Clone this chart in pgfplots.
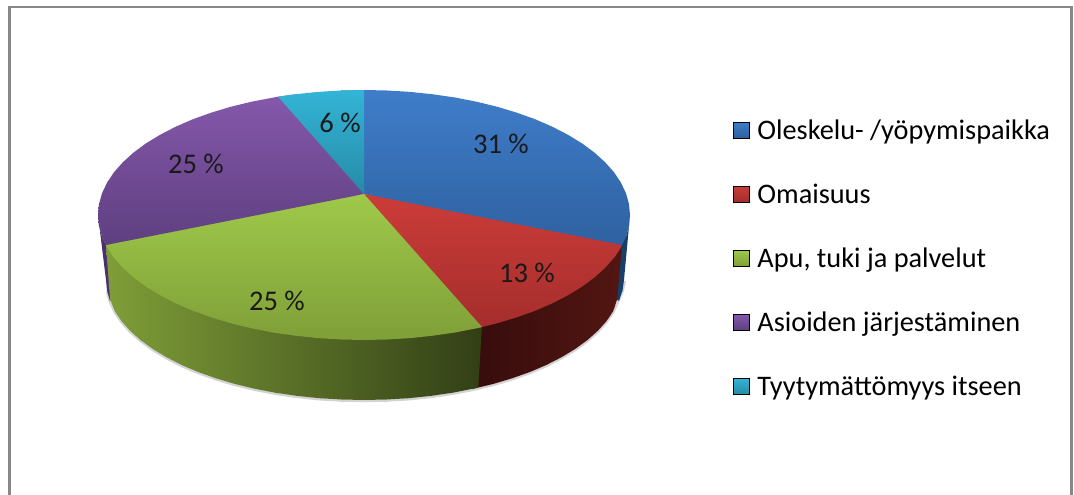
\documentclass[border=0pt]{standalone}
\usepackage{pgfplots}
\pgfplotsset{compat=1.18}
\usepackage{fontspec}
\setmainfont{Carlito}
\definecolor{bl1}{HTML}{3F7DCA}\definecolor{bl2}{HTML}{2D5F9D}
\definecolor{rd1}{HTML}{CC3C39}\definecolor{rd2}{HTML}{A32D2B}
\definecolor{gr1}{HTML}{9FC94A}\definecolor{gr2}{HTML}{7F9F38}
\definecolor{pu1}{HTML}{8558AB}\definecolor{pu2}{HTML}{5E3F80}
\definecolor{te1}{HTML}{33B4D6}\definecolor{te2}{HTML}{268BA6}
\definecolor{puS}{HTML}{4A3070}\definecolor{blS}{HTML}{173F6A}
\definecolor{rdL}{HTML}{360C0C}\definecolor{rdR}{HTML}{521612}
\definecolor{grL}{HTML}{7F9E38}\definecolor{grM}{HTML}{566B27}\definecolor{grR}{HTML}{323F16}
\begin{document}
\begin{tikzpicture}
\useasboundingbox (0,0) rectangle (1074pt,495pt);
\begin{axis}[
  at={(0,0)},anchor=south west,
  width=1074pt,height=495pt,scale only axis,
  xmin=0,xmax=1074,ymin=0,ymax=495,y dir=reverse,
  hide axis,clip=true,
  legend cell align=left,
  legend style={at={(axis cs:733,119.5)},anchor=north west,draw=none,fill=none,
    inner sep=0pt,outer sep=0pt,
    font=\fontsize{28.3}{30}\selectfont,
    nodes={inner ysep=0pt,inner xsep=0pt},row sep=43pt},
]
% frame
\addplot[draw=black!47,line width=2.5pt,forget plot] coordinates {(9.5,505)(9.5,7)(1071.5,7)(1071.5,505)};
% soft shadow along the lower rim
\addplot[draw=gray,opacity=.35,line width=2.5pt,forget plot] coordinates {
(107,291.5)(109.9,301.8)(114.8,312.1)(121.5,322.1)(130.1,331.7)(140.5,341)(152.6,349.8)(166.3,358.1)(181.5,365.9)(198.1,373)(216,379.3)(235,385)(255,389.8)(275.7,393.8)(297.3,396.9)(319.2,399.2)(341.5,400.5)(364,401)(386.5,400.5)(408.8,399.2)(430.7,396.9)(452.3,393.8)(473,389.8)(493,385)(512,379.3)(529.9,373)(546.5,365.9)(561.7,358.1)(575.4,349.8)(587.5,341)(597.9,331.7)(606.5,322.1)(613.2,312.1)(618.1,301.8)(622.5,291.5)(625,281)};
% sides
\addplot[draw=none,fill=puS,forget plot] coordinates {
(112,245)(102,236.7)(99,225.9)(98,215)(106,280)(107,290.5)(109.9,300.8)(112,300)};
\addplot[draw=none,fill=blS,forget plot] coordinates {
(630,215)(629,225.9)(626,236.7)(615,245)(617,300)(619,300.8)(622.5,290.5)(624,280)};
\addplot[draw=none,left color=rdL,right color=rdR,forget plot] coordinates {
(470,326)(497,320.3)(516.6,314.4)(535,307.8)(552.1,300.4)(567.8,292.3)(581.9,283.7)(594.4,274.5)(605.1,264.8)(614,254.8)(620.9,244.4)(622,245)(617.3,299)(613.2,311.1)(606.5,321.1)(597.9,330.7)(587.5,340)(575.4,348.8)(561.7,357.1)(546.5,364.9)(529.9,372)(512,378.3)(493,384)(473,388.8)(470,389)};
\addplot[draw=none,left color=grL,middle color=grM,right color=grR,forget plot] coordinates {
(106,245)(107.1,244.4)(114,254.8)(122.9,264.8)(133.6,274.5)(146.1,283.7)(160.2,292.3)(175.9,300.4)(193,307.8)(211.4,314.4)(231,320.3)(251.6,325.3)(273,329.5)(295.2,332.7)(317.8,335.1)(340.8,336.5)(364,337)(387.2,336.5)(410.2,335.1)(432.8,332.7)(455,329.5)(482,324)
(478.3,387.6)(452.3,392.8)(430.7,395.9)(408.8,398.2)(386.5,399.5)(364,400)(341.5,399.5)(319.2,398.2)(297.3,395.9)(275.7,392.8)(255,388.8)(235,384)(216,378.3)(198.1,372)(181.5,364.9)(166.3,357.1)(152.6,348.8)(140.5,340)(130.1,330.7)(121.5,321.1)(114.8,311.1)(110,299)};
% top surface
\addplot[draw=none,top color=bl1,bottom color=bl2,forget plot] coordinates {
(364,194)(340.8,90.5)(364,90)(387.2,90.5)(410.2,91.9)(432.8,94.3)(455,97.5)(476.4,101.7)(497,106.7)(516.6,112.6)(535,119.2)(552.1,126.6)(567.8,134.7)(581.9,143.3)(594.4,152.5)(605.1,162.2)(614,172.2)(620.9,182.6)(626,193.3)(629,204.1)(630,215)(629,225.9)(626,236.7)(622,245)(614,257.8)};
\addplot[draw=none,top color=rd1,bottom color=rd2,forget plot] coordinates {
(364,194)(622,245)(620.9,247.4)(614,257.8)(605.1,267.8)(594.4,277.5)(581.9,286.7)(567.8,295.3)(552.1,303.4)(535,310.8)(516.6,317.4)(497,323.3)(482,327)(455,332.5)};
\addplot[draw=none,top color=gr1,bottom color=gr2,forget plot] coordinates {
(364,194)(482,327)(476.4,328.3)(455,332.5)(432.8,335.7)(410.2,338.1)(387.2,339.5)(364,340)(340.8,339.5)(317.8,338.1)(295.2,335.7)(273,332.5)(251.6,328.3)(231,323.3)(211.4,317.4)(193,310.8)(175.9,303.4)(160.2,295.3)(146.1,286.7)(133.6,277.5)(122.9,267.8)(114,257.8)(107.1,247.4)(106,245)(102,236.7)};
\addplot[draw=none,top color=pu1,bottom color=pu2,forget plot] coordinates {
(364,194)(106,245)(102,236.7)(99,225.9)(98,215)(99,204.1)(102,193.3)(107.1,182.6)(114,172.2)(122.9,162.2)(133.6,152.5)(146.1,143.3)(160.2,134.7)(175.9,126.6)(193,119.2)(211.4,112.6)(231,106.7)(251.6,101.7)(278,96.7)(295.2,94.3)};
\addplot[draw=none,top color=te1,bottom color=te2,forget plot] coordinates {
(364,194)(278,96.7)(295.2,94.3)(317.8,91.9)(340.8,90.5)(364,90)};
% data labels
\addplot[draw=none,forget plot,point meta=explicit symbolic,
  nodes near coords,
  nodes near coords align={center},
  every node near coord/.append style={font=\fontsize{28.5}{30}\selectfont,text=black!90,inner sep=0pt}]
  coordinates {(501,144)[31 \%] (527,273)[13 \%] (277,301)[25 \%] (196,164)[25 \%] (340,123)[6 \%]};
% legend
\addlegendimage{legend image code/.code={\shade[top color=bl1,bottom color=bl2] (0pt,-8pt) rectangle (16pt,8pt);}}
\addlegendentry{\hspace{8pt}Oleskelu- /yöpymispaikka}
\addlegendimage{legend image code/.code={\shade[top color=rd1,bottom color=rd2] (0pt,-8pt) rectangle (16pt,8pt);}}
\addlegendentry{\hspace{8pt}Omaisuus}
\addlegendimage{legend image code/.code={\shade[top color=gr1,bottom color=gr2] (0pt,-8pt) rectangle (16pt,8pt);}}
\addlegendentry{\hspace{8pt}Apu, tuki ja palvelut}
\addlegendimage{legend image code/.code={\shade[top color=pu1,bottom color=pu2] (0pt,-8pt) rectangle (16pt,8pt);}}
\addlegendentry{\hspace{8pt}Asioiden järjestäminen}
\addlegendimage{legend image code/.code={\shade[top color=te1,bottom color=te2] (0pt,-8pt) rectangle (16pt,8pt);}}
\addlegendentry{\hspace{8pt}Tyytymättömyys itseen}
\end{axis}
\end{tikzpicture}
\end{document}
